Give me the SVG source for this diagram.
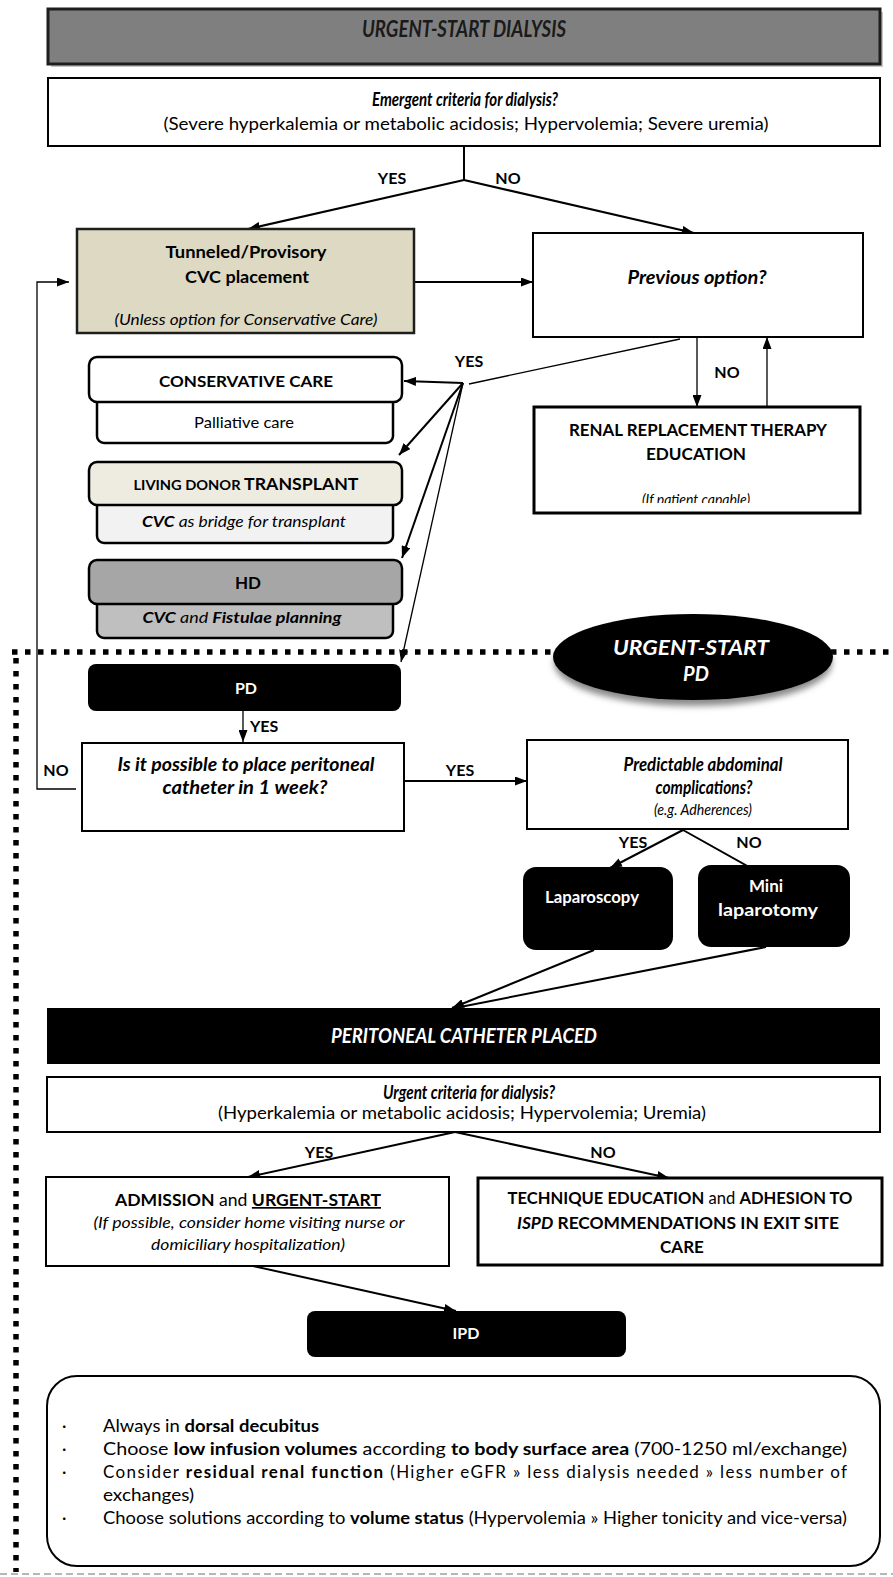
<svg xmlns="http://www.w3.org/2000/svg" width="893" height="1577" viewBox="0 0 893 1577">
<defs>
<style>
text{font-family:Lato,'Open Sans','Liberation Sans',sans-serif;fill:#000;font-size:17px}
.b{font-weight:bold}
.i{font-style:italic}
.w{fill:#fff}
.c{text-anchor:middle}
.s15{font-size:15px}
.s16{font-size:16px}
.s18{font-size:18px}
.bx{fill:#fff;stroke:#000;stroke-width:2}
.bx3{fill:#fff;stroke:#000;stroke-width:3}
.rb{stroke:#000;stroke-width:2.5}
.ln{fill:none;stroke:#000;stroke-width:2}
.lt{fill:none;stroke:#000;stroke-width:1.3}
.ar{marker-end:url(#ah)}
.dot{fill:none;stroke:#000;stroke-width:5.5;stroke-dasharray:5.5 7.5}
</style>
<marker id="ah" viewBox="0 0 12 9" refX="12" refY="4.5" markerWidth="12" markerHeight="9" markerUnits="userSpaceOnUse" orient="auto"><path d="M0,0L12,4.5L0,9z" fill="#000"/></marker>
<clipPath id="cpT"><rect x="77" y="229" width="337" height="100"/></clipPath>
<clipPath id="cpR"><rect x="534" y="407" width="326" height="96"/></clipPath>
<filter id="sh" x="-20%" y="-30%" width="140%" height="170%"><feGaussianBlur stdDeviation="3"/></filter>
</defs>
<rect width="893" height="1577" fill="#fff"/>

<g id="section-border">
<path class="dot" d="M12,652H893"/>
<path class="dot" d="M16,658V1572"/>
<path d="M0,1574H893" fill="none" stroke="#a0a0a0" stroke-width="1.5" stroke-dasharray="7 4"/>
</g>

<g id="connectors">
<path class="ln" d="M464,146V180"/>
<path class="ln ar" d="M464,180L248,229"/>
<path class="ln ar" d="M464,180L694,233"/>
<path class="ln ar" d="M414,282H533"/>
<path class="lt ar" d="M76,789H37V282H69"/>
<path class="lt ar" d="M697,337V407"/>
<path class="lt ar" d="M767,407V337"/>
<path class="lt" d="M680,339L469,384"/>
<path class="ln ar" d="M463,383L404,381"/>
<path class="ln ar" d="M463,383L399,455"/>
<path class="ln ar" d="M463,383L402,558"/>
<path class="lt ar" d="M463,383L401,662"/>
<path class="lt ar" d="M243,711V742"/>
<path class="ln ar" d="M404,781H527"/>
<path class="ln ar" d="M683,830L610,868"/>
<path class="ln ar" d="M683,830L767,877"/>
<path class="ln ar" d="M594,950L452,1008"/>
<path class="ln" d="M766,947L455,1008"/>
<path class="ln ar" d="M455,1132L248,1177"/>
<path class="ln ar" d="M455,1132L669,1178"/>
<path class="ln ar" d="M253,1266L456,1311"/>
</g>

<g id="labels">
<text class="b c s16" x="392" y="184">YES</text>
<text class="b c s16" x="508" y="184">NO</text>
<text class="b c s16" x="469" y="367">YES</text>
<text class="b c s16" x="727" y="378">NO</text>
<text class="b s16" x="250" y="732">YES</text>
<text class="b c s16" x="56" y="776">NO</text>
<text class="b c s16" x="460" y="776">YES</text>
<text class="b c s16" x="633" y="848">YES</text>
<text class="b c s16" x="749" y="848">NO</text>
<text class="b c s16" x="319" y="1158">YES</text>
<text class="b c s16" x="603" y="1158">NO</text>
</g>

<g id="header">
<rect x="51" y="12" width="832" height="55" fill="#c8c8c8"/>
<rect x="48" y="9" width="832" height="55" fill="#7f7f7f" stroke="#1e1e1e" stroke-width="3"/>
<text class="b i c" x="464" y="37" style="font-size:22px;fill:#1a1a1a" textLength="204" lengthAdjust="spacingAndGlyphs">URGENT-START DIALYSIS</text>
</g>

<g id="emergent-criteria">
<rect class="bx" x="48" y="78" width="832" height="68"/>
<text class="b i c s18" x="465" y="106" textLength="186" lengthAdjust="spacingAndGlyphs">Emergent criteria for dialysis?</text>
<text class="c s18" x="466" y="130" textLength="605" lengthAdjust="spacingAndGlyphs">(Severe hyperkalemia or metabolic acidosis; Hypervolemia; Severe uremia)</text>
</g>

<g id="cvc-placement">
<rect x="77" y="229" width="337" height="104" fill="#ddd9c3" stroke="#1e1e1e" stroke-width="2.5"/>
<text class="b c" x="246" y="258" textLength="161" lengthAdjust="spacingAndGlyphs">Tunneled/Provisory</text>
<text class="b c" x="247" y="283" textLength="124" lengthAdjust="spacingAndGlyphs">CVC placement</text>
<text class="i c s16" x="246" y="325" clip-path="url(#cpT)" textLength="263" lengthAdjust="spacingAndGlyphs">(Unless option for Conservative Care)</text>
</g>

<g id="previous-option">
<rect class="bx" x="533" y="233" width="330" height="104" stroke-width="2.5"/>
<text class="b i c s18" x="697" y="284" textLength="139" lengthAdjust="spacingAndGlyphs">Previous option?</text>
</g>

<g id="rrt-education">
<rect class="bx3" x="534" y="407" width="326" height="106"/>
<text class="b c" x="698" y="436" textLength="258" lengthAdjust="spacingAndGlyphs">RENAL REPLACEMENT THERAPY</text>
<text class="b c" x="696" y="460" textLength="100" lengthAdjust="spacingAndGlyphs">EDUCATION</text>
<text class="i c s16" x="696" y="505" clip-path="url(#cpR)" textLength="108" lengthAdjust="spacingAndGlyphs">(If patient capable)</text>
</g>

<g id="conservative-care">
<rect class="rb" x="97" y="396" width="296" height="47" rx="7" fill="#fff"/>
<rect class="rb" x="89" y="357" width="313" height="45" rx="8" fill="#fff"/>
<text class="b c s16" x="246" y="387" textLength="174" lengthAdjust="spacingAndGlyphs">CONSERVATIVE CARE</text>
<text class="c s16" x="244" y="428" textLength="100" lengthAdjust="spacingAndGlyphs">Palliative care</text>
</g>

<g id="living-donor">
<rect class="rb" x="97" y="498" width="296" height="45" rx="7" fill="#f2f2f2"/>
<rect class="rb" x="89" y="462" width="313" height="43" rx="8" fill="#eeece1"/>
<text class="b c" x="246" y="490" textLength="225" lengthAdjust="spacingAndGlyphs"><tspan style="font-size:14px">LIVING DONOR </tspan><tspan>TRANSPLANT</tspan></text>
<text class="i c s16" x="244" y="527" textLength="204" lengthAdjust="spacingAndGlyphs"><tspan class="b">CVC</tspan> as bridge for transplant</text>
</g>

<g id="hd">
<rect class="rb" x="97" y="598" width="296" height="40" rx="7" fill="#bfbfbf"/>
<rect class="rb" x="89" y="560" width="313" height="44" rx="8" fill="#a6a6a6"/>
<text class="b c" x="248" y="589">HD</text>
<text class="i c s16" x="242" y="623" textLength="199" lengthAdjust="spacingAndGlyphs"><tspan class="b">CVC</tspan> and <tspan class="b">Fistulae planning</tspan></text>
</g>

<g id="urgent-start-pd">
<ellipse cx="693" cy="663" rx="139" ry="43" fill="#8a8a8a" filter="url(#sh)"/>
<ellipse cx="693" cy="657" rx="140" ry="43" fill="#000"/>
<text class="b i c w" x="691" y="655" style="font-size:20px" textLength="156" lengthAdjust="spacingAndGlyphs">URGENT-START</text>
<text class="b i c w" x="696" y="681" style="font-size:20px">PD</text>
</g>

<g id="pd">
<rect x="88" y="664" width="313" height="47" rx="8" fill="#000"/>
<text class="b c w s16" x="246" y="694">PD</text>
</g>

<g id="catheter-one-week">
<rect class="bx" x="82" y="743" width="322" height="88"/>
<text class="b i c s18" x="246" y="771" textLength="257" lengthAdjust="spacingAndGlyphs">Is it possible to place peritoneal</text>
<text class="b i c s18" x="245" y="794" textLength="165" lengthAdjust="spacingAndGlyphs">catheter in 1 week?</text>
</g>

<g id="abdominal-complications">
<rect class="bx" x="527" y="740" width="321" height="89"/>
<text class="b i c s18" x="703" y="771" textLength="159" lengthAdjust="spacingAndGlyphs">Predictable abdominal</text>
<text class="b i c s18" x="704" y="794" textLength="97" lengthAdjust="spacingAndGlyphs">complications?</text>
<text class="i c s16" x="703" y="815" textLength="98" lengthAdjust="spacingAndGlyphs">(e.g. Adherences)</text>
</g>

<g id="laparoscopy">
<rect x="523" y="867" width="150" height="83" rx="13" fill="#000"/>
<text class="b c w" x="592" y="903" textLength="94" lengthAdjust="spacingAndGlyphs">Laparoscopy</text>
</g>

<g id="mini-laparotomy">
<rect x="698" y="865" width="152" height="82" rx="13" fill="#000"/>
<text class="b c w" x="766" y="892">Mini</text>
<text class="b c w" x="768" y="916" textLength="100" lengthAdjust="spacingAndGlyphs">laparotomy</text>
</g>

<g id="catheter-placed">
<rect x="47" y="1008" width="833" height="56" fill="#000"/>
<text class="b i c w" x="464" y="1043" style="font-size:20px" textLength="266" lengthAdjust="spacingAndGlyphs">PERITONEAL CATHETER PLACED</text>
</g>

<g id="urgent-criteria">
<rect class="bx" x="47" y="1077" width="833" height="55"/>
<text class="b i c s18" x="469" y="1099" textLength="172" lengthAdjust="spacingAndGlyphs">Urgent criteria for dialysis?</text>
<text class="c s18" x="462" y="1119" textLength="488" lengthAdjust="spacingAndGlyphs">(Hyperkalemia or metabolic acidosis; Hypervolemia; Uremia)</text>
</g>

<g id="admission">
<rect class="bx" x="46" y="1177" width="403" height="89" stroke-width="2.5"/>
<text class="c" x="248" y="1206" textLength="266" lengthAdjust="spacingAndGlyphs"><tspan class="b">ADMISSION</tspan> and <tspan class="b" text-decoration="underline">URGENT-START</tspan></text>
<text class="i c s16" x="249" y="1228" textLength="311" lengthAdjust="spacingAndGlyphs">(If possible, consider home visiting nurse or</text>
<text class="i c s16" x="248" y="1250" textLength="194" lengthAdjust="spacingAndGlyphs">domiciliary hospitalization)</text>
</g>

<g id="technique-education">
<rect class="bx3" x="478" y="1178" width="404" height="87"/>
<text class="c" x="680" y="1204" textLength="345" lengthAdjust="spacingAndGlyphs"><tspan class="b">TECHNIQUE EDUCATION</tspan> and <tspan class="b">ADHESION TO</tspan></text>
<text class="b c" x="678" y="1229" textLength="322" lengthAdjust="spacingAndGlyphs"><tspan class="i">ISPD</tspan> RECOMMENDATIONS IN EXIT SITE</text>
<text class="b c" x="682" y="1253">CARE</text>
</g>

<g id="ipd">
<rect x="307" y="1311" width="319" height="46" rx="8" fill="#000"/>
<text class="b c w s16" x="466" y="1339">IPD</text>
</g>

<g id="ipd-notes">
<rect class="bx" x="47" y="1376" width="833" height="190" rx="30"/>
<text x="62" y="1432">·</text>
<text x="103" y="1432" textLength="216" lengthAdjust="spacingAndGlyphs">Always in <tspan class="b">dorsal decubitus</tspan></text>
<text x="62" y="1455">·</text>
<text x="103" y="1455" textLength="744" lengthAdjust="spacingAndGlyphs">Choose <tspan class="b">low infusion volumes</tspan> according <tspan class="b">to body surface area</tspan> (700-1250 ml/exchange)</text>
<text x="62" y="1478">·</text>
<text x="103" y="1478" textLength="744" lengthAdjust="spacing">Consider <tspan class="b">residual renal function</tspan> (Higher eGFR » less dialysis needed » less number of</text>
<text x="103" y="1501" textLength="91" lengthAdjust="spacingAndGlyphs">exchanges)</text>
<text x="62" y="1524">·</text>
<text x="103" y="1524" textLength="744" lengthAdjust="spacingAndGlyphs">Choose solutions according to <tspan class="b">volume status</tspan> (Hypervolemia » Higher tonicity and vice-versa)</text>
</g>
</svg>
